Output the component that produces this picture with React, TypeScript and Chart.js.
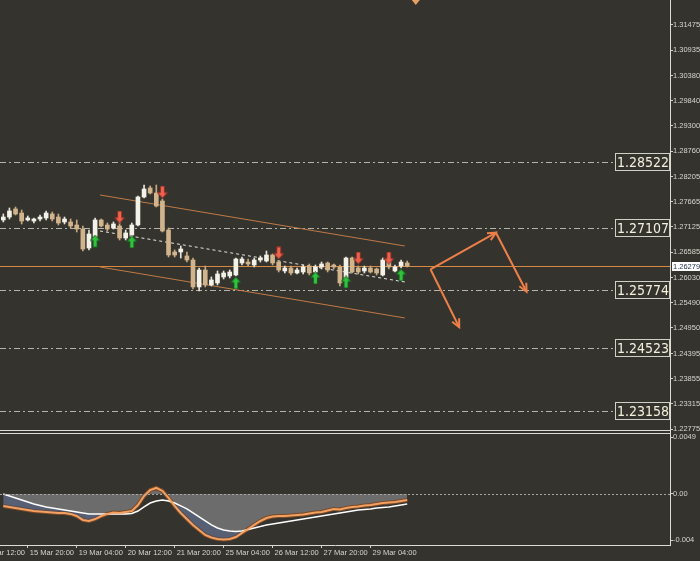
import React, { useEffect, useRef } from 'react';
import { Chart, registerables } from 'chart.js';

Chart.register(...registerables);

const BG = '#34332e';
const AXIS_TEXT = '#d6d6cc';
const FONT = "'Liberation Sans', Arial, sans-serif";

// ---- time axis ----
const xTickIndex = [-4, 4, 12, 20, 28, 36, 44, 52, 60];
const xTickLabels = ['14 Mar 12:00', '15 Mar 20:00', '19 Mar 04:00', '20 Mar 12:00', '21 Mar 20:00', '25 Mar 04:00', '26 Mar 12:00', '27 Mar 20:00', '29 Mar 04:00'];

// ---- price axis ----
const priceTicks = [1.31475, 1.30935, 1.3038, 1.2984, 1.293, 1.2876, 1.28205, 1.27665, 1.27125, 1.26585, 1.2603, 1.2549, 1.2495, 1.24395, 1.23855, 1.23315, 1.22775];
const oscTicks = [0.0049, 0, -0.004];
const oscTickLabels = ['0.0049', '0.00', '-0.004'];

// ---- candles (H4) ----
const opens = [1.27276, 1.2734, 1.27513, 1.27426, 1.27276, 1.27254, 1.27297, 1.27319, 1.27405, 1.2734, 1.27233, 1.27233, 1.27168, 1.27082, 1.26673, 1.2691, 1.27276, 1.27168, 1.27104, 1.27147, 1.26888, 1.26953, 1.27168, 1.27771, 1.27965, 1.27857, 1.27685, 1.27061, 1.26587, 1.26587, 1.26501, 1.26414, 1.25834, 1.26199, 1.25877, 1.2592, 1.26049, 1.2607, 1.26092, 1.2635, 1.26371, 1.26307, 1.26414, 1.26393, 1.26522, 1.26371, 1.26178, 1.26242, 1.26135, 1.26156, 1.26285, 1.26156, 1.26264, 1.2635, 1.26307, 1.26264, 1.26027, 1.26457, 1.26242, 1.26178, 1.26242, 1.26221, 1.26092, 1.26414, 1.26178, 1.26285, 1.2635];
const highs = [1.27405, 1.27534, 1.27556, 1.27491, 1.27362, 1.27319, 1.27383, 1.2747, 1.27448, 1.27405, 1.2734, 1.27297, 1.27276, 1.27147, 1.27061, 1.27319, 1.27297, 1.27211, 1.27233, 1.27233, 1.27061, 1.27211, 1.27793, 1.28029, 1.28008, 1.28029, 1.27728, 1.27104, 1.2663, 1.26716, 1.26587, 1.26457, 1.26242, 1.26285, 1.26049, 1.26178, 1.26178, 1.26199, 1.26457, 1.26479, 1.26436, 1.26457, 1.26501, 1.26608, 1.26544, 1.26393, 1.26285, 1.26285, 1.26242, 1.26307, 1.26328, 1.26307, 1.26371, 1.26371, 1.26328, 1.26307, 1.26479, 1.26479, 1.26285, 1.26285, 1.26285, 1.26242, 1.26457, 1.26457, 1.26307, 1.26414, 1.26393];
const lows = [1.27233, 1.27297, 1.27383, 1.2719, 1.27254, 1.27211, 1.27254, 1.27276, 1.27254, 1.27168, 1.2719, 1.27104, 1.27017, 1.26608, 1.2663, 1.26867, 1.27125, 1.27039, 1.27082, 1.26845, 1.26845, 1.2691, 1.27147, 1.27749, 1.27836, 1.27556, 1.27017, 1.26479, 1.26479, 1.26457, 1.26371, 1.25791, 1.25748, 1.25834, 1.25855, 1.25877, 1.26006, 1.26027, 1.2607, 1.26307, 1.26285, 1.26264, 1.26371, 1.26371, 1.26307, 1.26156, 1.26135, 1.26092, 1.26113, 1.26113, 1.26092, 1.26113, 1.26221, 1.26156, 1.26221, 1.25855, 1.25984, 1.26135, 1.26113, 1.26135, 1.26135, 1.26092, 1.2607, 1.26221, 1.26156, 1.26242, 1.26264];
const closes = [1.2734, 1.2747, 1.27405, 1.27254, 1.27319, 1.27297, 1.2734, 1.27426, 1.27297, 1.27211, 1.27297, 1.27147, 1.27082, 1.26651, 1.26974, 1.27276, 1.27147, 1.27082, 1.2719, 1.26888, 1.26996, 1.27168, 1.27771, 1.27943, 1.27857, 1.27577, 1.27039, 1.26522, 1.26522, 1.26651, 1.26414, 1.25834, 1.26199, 1.25877, 1.25984, 1.26113, 1.26135, 1.26156, 1.26436, 1.26436, 1.26328, 1.26414, 1.26457, 1.26522, 1.2635, 1.26199, 1.26242, 1.26135, 1.26199, 1.26264, 1.26135, 1.26264, 1.26328, 1.26199, 1.26264, 1.2592, 1.26457, 1.26156, 1.26156, 1.26242, 1.26156, 1.26135, 1.26414, 1.26264, 1.26264, 1.26371, 1.26279];

// ---- signal arrows ----
const upArrowIndex = [15, 21, 38, 51, 56, 65];
const upArrowPrice = [1.26823, 1.26802, 1.25919, 1.26027, 1.25941, 1.26092];
const downArrowIndex = [19, 26, 45, 58, 63];
const downArrowPrice = [1.2734, 1.27878, 1.26565, 1.26457, 1.26457];

// ---- levels ----
const levels = [1.28522, 1.27107, 1.25774, 1.24523, 1.23158];
const currentPrice = 1.26279;

// ---- channel ----
const channelX = [15.8, 65.6];
const channelUpper = [1.27814, 1.26716];
const channelLower = [1.26264, 1.25166];
const channelMid = [1.27039, 1.25941];

// ---- projection arrows ----
const projAX = [69.8, 80.5, 85.5];
const projAY = [1.26214, 1.27002, 1.25732];
const projBX = [69.8, 74.5];
const projBY = [1.26214, 1.24965];
const shiftMarkerIndex = 67.4;

// ---- oscillator ----
const macdMain = [-0.00103, -0.00112, -0.00121, -0.00129, -0.00138, -0.00147, -0.00151, -0.00155, -0.00159, -0.00164, -0.00164, -0.00172, -0.0019, -0.00224, -0.00233, -0.00216, -0.0019, -0.00172, -0.00159, -0.00164, -0.00155, -0.00147, -0.00095, -0.00017, 0.00034, 0.00052, 0.00026, -0.00034, -0.00103, -0.00164, -0.00216, -0.00267, -0.0031, -0.00353, -0.00375, -0.00388, -0.00392, -0.00388, -0.00371, -0.00336, -0.00302, -0.00267, -0.00233, -0.00207, -0.00194, -0.0019, -0.0019, -0.00185, -0.00181, -0.00177, -0.00168, -0.00159, -0.00155, -0.00142, -0.00129, -0.00134, -0.00121, -0.00112, -0.00108, -0.00099, -0.00095, -0.00086, -0.00078, -0.00073, -0.00069, -0.0006, -0.00052];
const macdSignal = [0, -0.00017, -0.00034, -0.00052, -0.00069, -0.00086, -0.00099, -0.00112, -0.00121, -0.00129, -0.00138, -0.00147, -0.00155, -0.00164, -0.00172, -0.00172, -0.00172, -0.00172, -0.00172, -0.00172, -0.00172, -0.00168, -0.00147, -0.00112, -0.00078, -0.0006, -0.00052, -0.0006, -0.00078, -0.00103, -0.00129, -0.00164, -0.00198, -0.00233, -0.00267, -0.00293, -0.0031, -0.00319, -0.00323, -0.00319, -0.00306, -0.00293, -0.0028, -0.00267, -0.00259, -0.0025, -0.00241, -0.00233, -0.00224, -0.00216, -0.00207, -0.00198, -0.0019, -0.00181, -0.00172, -0.00164, -0.00155, -0.00147, -0.00138, -0.00134, -0.00129, -0.00121, -0.00116, -0.00112, -0.00103, -0.00095, -0.00086];

function makeArrow(up: boolean): HTMLCanvasElement {
  const c = document.createElement('canvas');
  c.width = 11;
  c.height = 13;
  const g = c.getContext('2d')!;
  g.save();
  if (!up) {
    g.translate(0, 13);
    g.scale(1, -1);
  }
  g.beginPath();
  g.moveTo(5.5, 0.5);
  g.lineTo(10.5, 6);
  g.lineTo(7.5, 6);
  g.lineTo(7.5, 12.5);
  g.lineTo(3.5, 12.5);
  g.lineTo(3.5, 6);
  g.lineTo(0.5, 6);
  g.closePath();
  g.fillStyle = up ? '#2fc43c' : '#f0604c';
  g.fill();
  g.lineWidth = 1;
  g.strokeStyle = up ? '#1d5a22' : '#8a3026';
  g.stroke();
  g.restore();
  return c;
}

const overlayPlugin = {
  id: 'mtOverlay',
  beforeDraw(chart: any) {
    const { ctx, width, height } = chart;
    ctx.save();
    ctx.fillStyle = BG;
    ctx.fillRect(0, 0, width, height);
    ctx.restore();
  },
  beforeDatasetsDraw(chart: any) {
    const { ctx, chartArea } = chart;
    const y = chart.scales.y;
    ctx.save();
    ctx.beginPath();
    ctx.rect(chartArea.left, y.top, chartArea.right - chartArea.left, y.bottom - y.top);
    ctx.clip();
    ctx.lineWidth = 1;
    ctx.strokeStyle = '#b4b4ac';
    ctx.setLineDash([6, 3, 2, 3]);
    for (const lv of levels) {
      const py = Math.round(y.getPixelForValue(lv)) + 0.5;
      ctx.beginPath();
      ctx.moveTo(chartArea.left, py);
      ctx.lineTo(chartArea.right - 50, py);
      ctx.stroke();
    }
    ctx.setLineDash([]);
    ctx.strokeStyle = '#d9883f';
    const pp = Math.round(y.getPixelForValue(currentPrice)) + 0.5;
    ctx.beginPath();
    ctx.moveTo(chartArea.left, pp);
    ctx.lineTo(chartArea.right, pp);
    ctx.stroke();
    ctx.restore();
  },
  afterDatasetsDraw(chart: any) {
    const { ctx, chartArea } = chart;
    const y2 = chart.scales.y2;
    ctx.save();
    const z = Math.round(y2.getPixelForValue(0)) + 0.5;
    ctx.strokeStyle = '#a8a8a0';
    ctx.lineWidth = 1;
    ctx.setLineDash([2, 2]);
    ctx.beginPath();
    ctx.moveTo(chartArea.left, z);
    ctx.lineTo(chartArea.right, z);
    ctx.stroke();
    ctx.setLineDash([]);
    // projection arrow heads
    ctx.strokeStyle = '#ec8048';
    ctx.lineWidth = 2;
    for (const di of [5, 6]) {
      const pts = chart.getDatasetMeta(di).data;
      for (let k = 1; k < pts.length; k++) {
        const a = pts[k - 1];
        const b = pts[k];
        const ang = Math.atan2(b.y - a.y, b.x - a.x);
        const len = 9;
        ctx.beginPath();
        ctx.moveTo(b.x - len * Math.cos(ang - 0.45), b.y - len * Math.sin(ang - 0.45));
        ctx.lineTo(b.x, b.y);
        ctx.lineTo(b.x - len * Math.cos(ang + 0.45), b.y - len * Math.sin(ang + 0.45));
        ctx.stroke();
      }
    }
    ctx.restore();
  },
  afterDraw(chart: any) {
    const { ctx, chartArea } = chart;
    const y = chart.scales.y;
    const x = chart.scales.x;
    ctx.save();
    // level boxes
    let size = 18;
    const fam = "'Liberation Sans Narrow', 'DejaVu Sans Condensed', 'Liberation Sans', sans-serif";
    ctx.font = `${size}px ${fam}`;
    while (ctx.measureText('1.28522').width > 53 && size > 10) {
      size -= 0.5;
      ctx.font = `${size}px ${fam}`;
    }
    const right = chartArea.right;
    for (const lv of levels) {
      const py = Math.round(y.getPixelForValue(lv));
      const txt = lv.toFixed(5);
      const tw = ctx.measureText(txt).width;
      const left = Math.round(right - tw - 3);
      ctx.fillStyle = BG;
      ctx.fillRect(left, py - 9, right - left, 18);
      ctx.strokeStyle = '#d0d0c4';
      ctx.lineWidth = 1;
      ctx.strokeRect(left + 0.5, py - 8.5, right - left - 1, 17);
      ctx.fillStyle = '#f4f0dc';
      ctx.textAlign = 'right';
      ctx.textBaseline = 'middle';
      ctx.fillText(txt, right - 1, py + 1);
    }
    // current price label on axis
    const pp = Math.round(y.getPixelForValue(currentPrice));
    ctx.fillStyle = '#ffffff';
    ctx.fillRect(right + 2, pp - 4, 700 - right - 2, 9);
    ctx.fillStyle = '#1c2c44';
    ctx.font = `7.5px ${FONT}`;
    ctx.textAlign = 'left';
    ctx.textBaseline = 'middle';
    ctx.fillText(currentPrice.toFixed(5), right + 3, pp + 0.5);
    // pane separators
    const sep = Math.round(y.bottom);
    ctx.strokeStyle = '#dcdcd6';
    ctx.lineWidth = 1;
    ctx.beginPath();
    ctx.moveTo(0, sep - 0.5);
    ctx.lineTo(right, sep - 0.5);
    ctx.moveTo(0, sep + 2.5);
    ctx.lineTo(right, sep + 2.5);
    ctx.stroke();
    // chart shift marker
    const mx = x.getPixelForValue(shiftMarkerIndex);
    ctx.fillStyle = '#e8a060';
    ctx.beginPath();
    ctx.moveTo(mx - 4, 0);
    ctx.lineTo(mx + 4, 0);
    ctx.lineTo(mx, 5);
    ctx.closePath();
    ctx.fill();
    ctx.restore();
  },
};

export default function App() {
  const ref = useRef<HTMLCanvasElement>(null);

  useEffect(() => {
    document.body.style.margin = '0';
    document.body.style.background = BG;
    const upImg = makeArrow(true);
    const downImg = makeArrow(false);
    const BULL = '#f4f2e8';
    const BEAR = '#d2b48c';
    const isBull = opens.map((o, i) => closes[i] >= o);

    const xLabel = (v: number) => {
      const k = xTickIndex.indexOf(v);
      return k >= 0 ? xTickLabels[k] : '';
    };
    const oscLabel = (v: number) => {
      const k = oscTicks.indexOf(v);
      return k >= 0 ? oscTickLabels[k] : '';
    };

    const chart = new Chart(ref.current!, {
      type: 'bar',
      data: {
        datasets: [
          {
            type: 'bar',
            data: opens.map((_, i) => ({ x: i, y: [lows[i], highs[i]] })) as any,
            backgroundColor: isBull.map((b) => (b ? '#e6e4da' : '#c8a880')),
            barThickness: 1,
            grouped: false,
            minBarLength: 1,
            borderWidth: 0,
            yAxisID: 'y',
            order: 5,
          } as any,
          {
            type: 'bar',
            data: opens.map((o, i) => ({ x: i, y: [o, closes[i]] })) as any,
            backgroundColor: isBull.map((b) => (b ? BULL : BEAR)),
            barThickness: 4,
            grouped: false,
            minBarLength: 1,
            borderWidth: 0,
            yAxisID: 'y',
            order: 4,
          } as any,
          {
            type: 'line',
            data: channelX.map((xv, i) => ({ x: xv, y: channelUpper[i] })),
            borderColor: '#c07a46',
            borderWidth: 1,
            pointRadius: 0,
            yAxisID: 'y',
            order: 6,
          },
          {
            type: 'line',
            data: channelX.map((xv, i) => ({ x: xv, y: channelLower[i] })),
            borderColor: '#c07a46',
            borderWidth: 1,
            pointRadius: 0,
            yAxisID: 'y',
            order: 6,
          },
          {
            type: 'line',
            data: channelX.map((xv, i) => ({ x: xv, y: channelMid[i] })),
            borderColor: '#e8e8e0',
            borderWidth: 1,
            borderDash: [3, 3],
            pointRadius: 0,
            yAxisID: 'y',
            order: 6,
          },
          {
            type: 'line',
            data: projAX.map((xv, i) => ({ x: xv, y: projAY[i] })),
            borderColor: '#ec8048',
            borderWidth: 2,
            pointRadius: 0,
            yAxisID: 'y',
            order: 3,
          },
          {
            type: 'line',
            data: projBX.map((xv, i) => ({ x: xv, y: projBY[i] })),
            borderColor: '#ec8048',
            borderWidth: 2,
            pointRadius: 0,
            yAxisID: 'y',
            order: 3,
          },
          {
            type: 'scatter',
            data: upArrowIndex.map((xv, i) => ({ x: xv, y: upArrowPrice[i] })),
            pointStyle: upImg,
            pointRadius: 5,
            yAxisID: 'y',
            order: 1,
          } as any,
          {
            type: 'scatter',
            data: downArrowIndex.map((xv, i) => ({ x: xv, y: downArrowPrice[i] })),
            pointStyle: downImg,
            pointRadius: 5,
            yAxisID: 'y',
            order: 1,
          } as any,
          {
            type: 'line',
            data: macdMain.map((v, i) => ({ x: i, y: v })),
            borderColor: '#7a4a28',
            borderWidth: 4,
            pointRadius: 0,
            fill: 'origin',
            backgroundColor: '#6c6c6c',
            yAxisID: 'y2',
            order: 10,
          },
          {
            type: 'line',
            data: macdSignal.map((v, i) => ({ x: i, y: v })),
            borderColor: '#ffffff',
            borderWidth: 1.5,
            pointRadius: 0,
            fill: { target: 9, above: 'rgba(60,80,125,0.45)', below: 'rgba(0,0,0,0)' },
            yAxisID: 'y2',
            order: 8,
          } as any,
          {
            type: 'line',
            data: macdMain.map((v, i) => ({ x: i, y: v })),
            borderColor: '#f4a060',
            borderWidth: 2,
            pointRadius: 0,
            fill: false,
            yAxisID: 'y2',
            order: 7,
          },
        ],
      },
      plugins: [overlayPlugin],
      options: {
        responsive: false,
        animation: false,
        events: [],
        layout: { padding: 0, autoPadding: false },
        plugins: { legend: { display: false }, tooltip: { enabled: false } },
        scales: {
          x: {
            type: 'linear',
            position: 'bottom',
            min: -0.54,
            max: 108.94,
            offset: false,
            afterBuildTicks: (s: any) => {
              s.ticks = xTickIndex.map((v) => ({ value: v }));
            },
            afterFit: (s: any) => {
              s.height = 16;
              s.paddingLeft = 0;
              s.paddingRight = 0;
            },
            ticks: {
              callback: (v: any) => xLabel(v),
              align: 'start',
              labelOffset: 2,
              maxRotation: 0,
              autoSkip: false,
              padding: 0,
              color: AXIS_TEXT,
              font: { family: FONT, size: 7.5 },
            },
            grid: { drawOnChartArea: false, offset: false, tickLength: 3, color: '#d0d0c8' },
            border: { color: '#dcdcd6' },
          } as any,
          y: {
            type: 'linear',
            position: 'right',
            stack: 'panes',
            stackWeight: 431,
            min: 1.22732,
            max: 1.32013,
            afterBuildTicks: (s: any) => {
              s.ticks = priceTicks.map((v) => ({ value: v }));
            },
            afterFit: (s: any) => {
              s.width = 30;
              s.paddingTop = 0;
              s.paddingBottom = 0;
            },
            ticks: {
              callback: (v: any) => Number(v).toFixed(5),
              padding: 0,
              color: AXIS_TEXT,
              font: { family: FONT, size: 7.5 },
            },
            grid: { drawOnChartArea: false, tickLength: 3, color: '#d0d0c8' },
            border: { color: '#dcdcd6' },
          } as any,
          y2: {
            type: 'linear',
            position: 'right',
            stack: 'panes',
            stackWeight: 114,
            min: -0.0044,
            max: 0.00543,
            afterBuildTicks: (s: any) => {
              s.ticks = oscTicks.map((v) => ({ value: v }));
            },
            afterFit: (s: any) => {
              s.width = 30;
              s.paddingTop = 0;
              s.paddingBottom = 0;
            },
            ticks: {
              callback: (v: any) => oscLabel(v),
              padding: 0,
              color: AXIS_TEXT,
              font: { family: FONT, size: 7.5 },
            },
            grid: { drawOnChartArea: false, tickLength: 3, color: '#d0d0c8' },
            border: { color: '#dcdcd6' },
          } as any,
        },
      },
    } as any);

    return () => chart.destroy();
  }, []);

  return (
    <div style={{ width: 700, height: 561, background: BG }}>
      <canvas ref={ref} width={700} height={561} style={{ display: 'block' }} />
    </div>
  );
}
